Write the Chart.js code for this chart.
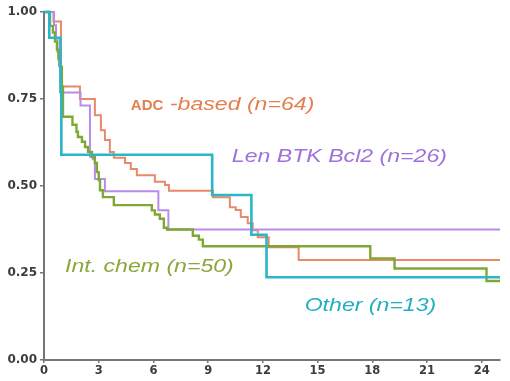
<!DOCTYPE html>
<html><head><meta charset="utf-8">
<script src="https://cdn.jsdelivr.net/npm/chart.js@4.4.1/dist/chart.umd.min.js"></script>
<style>html,body{margin:0;padding:0;background:#fff;}canvas{display:block;}</style>
</head><body>
<canvas id="c" width="510" height="381"></canvas>
<script>
// Time axis in months, survival probability on y
const xTicks = [0, 3, 6, 9, 12, 15, 18, 21, 24];
const yTicks = [0, 0.25, 0.5, 0.75, 1];

const seriesNames = ['ADC -based (n=64)', 'Len BTK Bcl2 (n=26)', 'Int. chem (n=50)', 'Other (n=13)'];

const adcTime = [0, 0.52, 0.93, 1.97, 2.79, 3.12, 3.34, 3.61, 3.83, 4.44, 4.76, 5.09, 6.08, 6.63, 6.85, 9.26, 10.19, 10.51, 10.79, 11.17, 11.44, 11.72, 12.32, 13.96, 25];
const adcSurv = [1.0, 0.973, 0.786, 0.75, 0.703, 0.66, 0.632, 0.598, 0.581, 0.566, 0.549, 0.531, 0.512, 0.503, 0.486, 0.468, 0.439, 0.431, 0.411, 0.393, 0.373, 0.353, 0.324, 0.287, 0.287];

const lenTime = [0, 0.55, 0.66, 0.74, 0.82, 0.9, 0.99, 2.0, 2.52, 2.68, 2.79, 3.34, 6.27, 6.82, 25];
const lenSurv = [1.0, 0.962, 0.923, 0.885, 0.846, 0.808, 0.769, 0.731, 0.584, 0.577, 0.52, 0.485, 0.43, 0.375, 0.375];

const chemTime = [0, 0.33, 0.49, 0.6, 0.71, 0.79, 0.87, 0.98, 1.04, 1.56, 1.78, 1.86, 2.08, 2.25, 2.41, 2.63, 2.79, 2.9, 3.0, 3.07, 3.23, 3.83, 5.91, 6.08, 6.35, 6.57, 6.74, 8.16, 8.49, 8.71, 17.89, 19.22, 24.26, 25];
const chemSurv = [1.0, 0.96, 0.941, 0.915, 0.892, 0.865, 0.843, 0.785, 0.699, 0.676, 0.656, 0.641, 0.627, 0.612, 0.598, 0.583, 0.566, 0.54, 0.517, 0.488, 0.468, 0.445, 0.43, 0.418, 0.406, 0.38, 0.375, 0.357, 0.346, 0.327, 0.292, 0.263, 0.227, 0.227];

const otherTime = [0, 0.29, 0.9, 0.95, 9.22, 11.37, 12.2, 25];
const otherSurv = [1.0, 0.926, 0.77, 0.59, 0.474, 0.36, 0.238, 0.238];

// ---- styling / layout (kept separate from data) ----
const lineColors = ['#E8896A', '#B98CEA', '#7FA832', '#2BB6C8'];
const textColors = ['#E2804F', '#9E72DA', '#8AA83A', '#23AFC2'];
const lineWidths = [2, 2, 2.4, 2.6];

const pts = (t, s) => t.map((v, i) => ({ x: v, y: s[i] }));
const series = [
  pts(adcTime, adcSurv),
  pts(lenTime, lenSurv),
  pts(chemTime, chemSurv),
  pts(otherTime, otherSurv)
];

const italicFont = 'italic 17.5px "Liberation Sans", Arial, sans-serif';
const labelSpecs = [
  { text: seriesNames[0].split(' ')[0], t: 4.76, s: 0.717, font: 'bold 15px "Liberation Sans", Arial, sans-serif', sx: 1.0, color: textColors[0] },
  { text: seriesNames[0].slice(4), t: 6.90, s: 0.719, font: italicFont, sx: 1.32, color: textColors[0] },
  { text: seriesNames[1], t: 10.30, s: 0.569, font: italicFont, sx: 1.32, color: textColors[1] },
  { text: seriesNames[2], t: 1.15, s: 0.254, font: italicFont, sx: 1.32, color: textColors[2] },
  { text: seriesNames[3], t: 14.29, s: 0.140, font: italicFont, sx: 1.32, color: textColors[3] }
];

const labelPlugin = {
  id: 'kmLabels',
  afterDatasetsDraw(chart) {
    const { ctx, scales: { x, y } } = chart;
    labelSpecs.forEach(l => {
      ctx.save();
      ctx.font = l.font;
      ctx.fillStyle = l.color;
      ctx.textBaseline = 'alphabetic';
      ctx.textAlign = 'left';
      ctx.translate(x.getPixelForValue(l.t), y.getPixelForValue(l.s));
      ctx.scale(l.sx, 1);
      ctx.fillText(l.text, 0, 0);
      ctx.restore();
    });
  }
};

const axisColor = '#767676';
const tickFont = { family: '"DejaVu Sans", sans-serif', size: 12, weight: 'bold' };

// draw order: cyan on top, then green, purple, orange
const order = [3, 2, 1, 0];
const datasets = order.map(i => ({
  label: seriesNames[i],
  data: series[i],
  stepped: true,
  borderColor: lineColors[i],
  borderWidth: lineWidths[i],
  pointRadius: 0,
  fill: false,
  tension: 0,
  clip: 4
}));

new Chart(document.getElementById('c'), {
  type: 'line',
  data: { datasets },
  options: {
    responsive: false,
    animation: false,
    layout: { padding: { top: 12, right: 10, left: 0, bottom: 0 } },
    plugins: { legend: { display: false }, tooltip: { enabled: false } },
    scales: {
      x: {
        type: 'linear', min: 0, max: 25,
        afterBuildTicks: s => { s.ticks = xTicks.map(v => ({ value: v })); },
        afterFit: s => { s.height = 21; },
        ticks: { font: { ...tickFont, size: 11.5 }, color: '#3c3c3c', padding: 1, maxRotation: 0, autoSkip: false },
        grid: { drawOnChartArea: false, drawTicks: true, tickLength: 3, color: axisColor, lineWidth: 1.5 },
        border: { display: true, color: axisColor, width: 2 }
      },
      y: {
        type: 'linear', min: 0, max: 1,
        afterBuildTicks: s => { s.ticks = yTicks.map(v => ({ value: v })); },
        afterFit: s => { s.width = 44; },
        ticks: { font: tickFont, color: '#3c3c3c', padding: 3, callback: v => Number(v).toFixed(2) },
        grid: { drawOnChartArea: false, drawTicks: true, tickLength: 4, color: axisColor, lineWidth: 1.5 },
        border: { display: true, color: axisColor, width: 2 }
      }
    }
  },
  plugins: [labelPlugin]
});
</script>
</body></html>
